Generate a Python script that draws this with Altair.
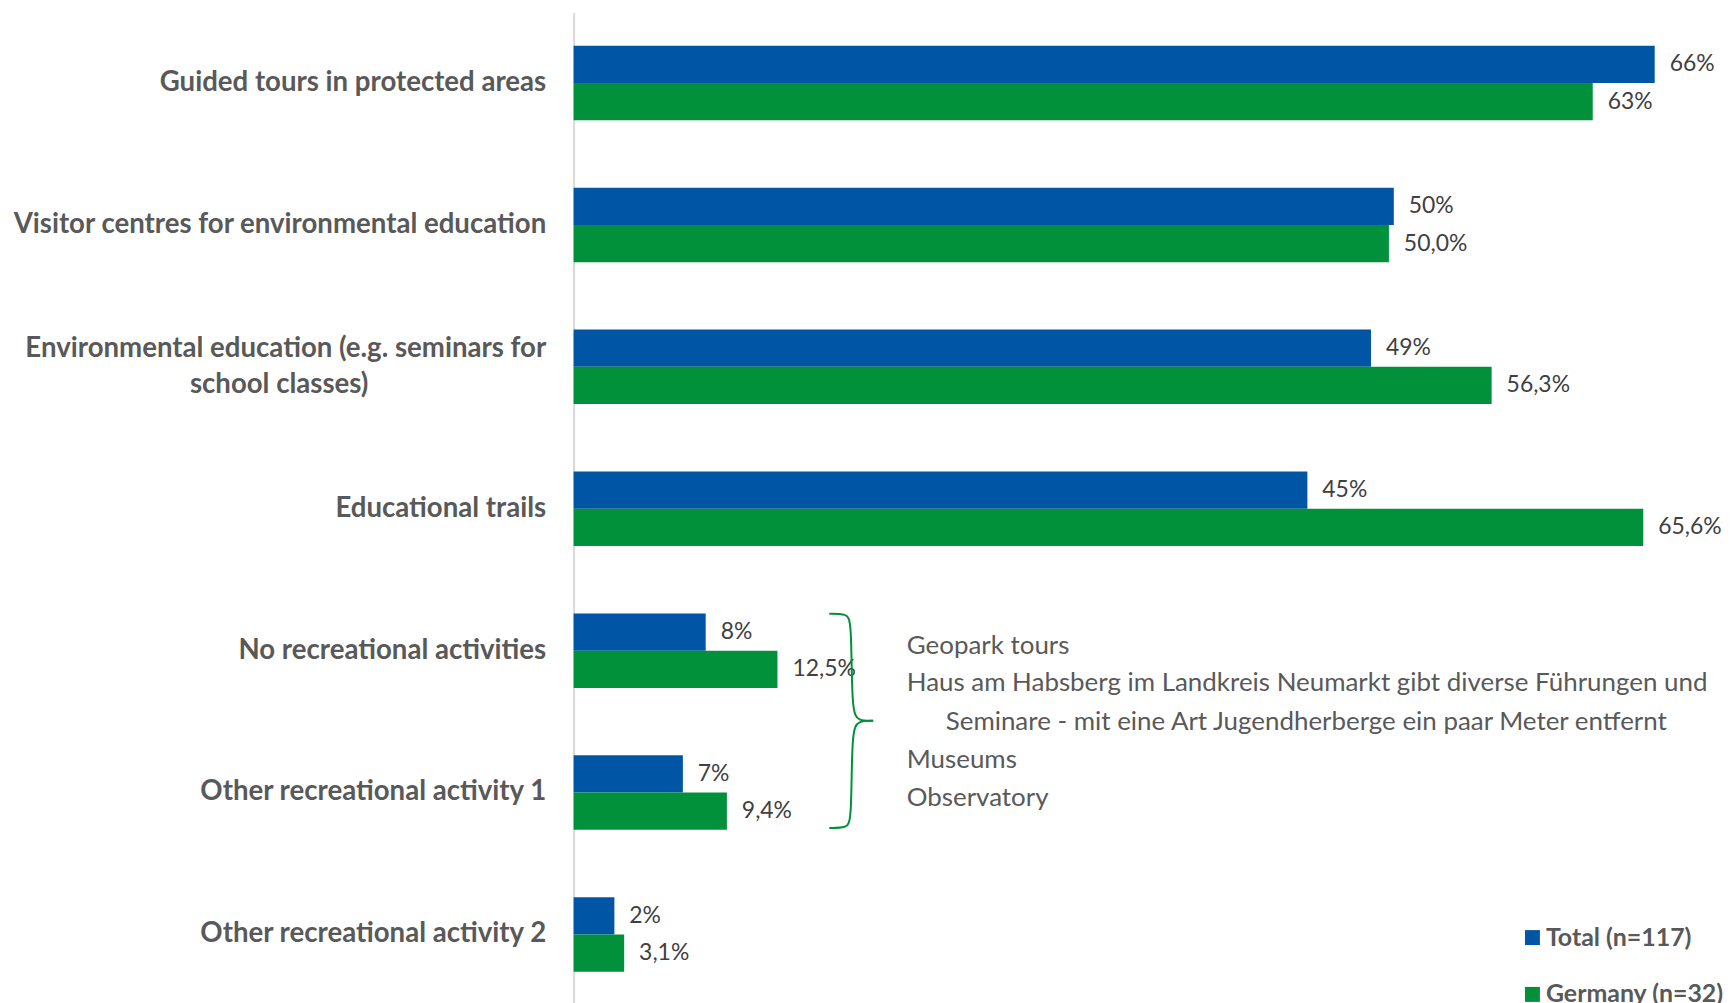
import altair as alt
import pandas as pd

# ---------------- data ----------------
categories = [
    "Guided tours in protected areas",
    "Visitor centres for environmental education",
    "Environmental education (e.g. seminars for school classes)",
    "Educational trails",
    "No recreational activities",
    "Other recreational activity 1",
    "Other recreational activity 2",
]
series_names = ["Total (n=117)", "Germany (n=32)"]
total_values = [66.3, 50.3, 48.9, 45.0, 8.1, 6.7, 2.5]
germany_values = [62.5, 50.0, 56.3, 65.6, 12.5, 9.4, 3.1]
total_labels = ["66%", "50%", "49%", "45%", "8%", "7%", "2%"]
germany_labels = ["63%", "50,0%", "56,3%", "65,6%", "12,5%", "9,4%", "3,1%"]

annotation_lines = [
    "Geopark tours",
    "Haus am Habsberg im Landkreis Neumarkt gibt diverse Führungen und",
    "Seminare - mit eine Art Jugendherberge ein paar Meter entfernt",
    "Museums",
    "Observatory",
]
# annotation anchors (x in %, y in category-step units from the top)
annotation_x = [20.43, 20.43, 22.82, 20.43, 20.43]
annotation_y = [4.467, 4.731, 5.003, 5.274, 5.538]

# curly brace path (x in %, y in category-step units), two halves
brace_part = ["upper"] * 6 + ["lower"] * 6
brace_order = list(range(6)) + list(range(6))
brace_x = [15.68, 16.75, 17.05, 17.05, 17.45, 18.37,
           18.37, 17.45, 17.05, 17.05, 16.75, 15.68]
brace_y = [4.24, 4.24, 4.29, 4.93, 4.995, 4.995,
           4.995, 4.995, 5.06, 5.70, 5.75, 5.75]

# ---------------- tables ----------------
rows = []
for i, c in enumerate(categories):
    rows.append({"category": c, "series": series_names[0], "value": total_values[i], "label": total_labels[i]})
    rows.append({"category": c, "series": series_names[1], "value": germany_values[i], "label": germany_labels[i]})
df = pd.DataFrame(rows)

ann_df = pd.DataFrame({"line": annotation_lines, "ax": annotation_x, "ay": annotation_y})
brace_df = pd.DataFrame({"part": brace_part, "ord": brace_order, "bx": brace_x, "by": brace_y})

BLUE = "#0056A4"
GREEN = "#00913A"
FONT = "Lato"

xscale = alt.Scale(domain=[0, 70], nice=False, zero=True)
yband = alt.Scale(paddingInner=0.475, paddingOuter=0.2375)
yq = alt.Scale(domain=[0, 7], reverse=True, nice=False, zero=False)

long_cat = categories[2]
pad = "\u2003" * 6 + "\u00a0" * 8 + "\u200b"
label_expr = (
    f"datum.value == '{long_cat}' ? "
    f"['Environmental education (e.g. seminars for', 'school classes){pad}'] : datum.value"
)

yaxis = alt.Axis(
    labelExpr=label_expr,
    labelFont=FONT,
    labelFontSize=27.7,
    labelFontWeight="bold",
    labelColor="#595959",
    labelPadding=28,
    labelLimit=0,
    labelLineHeight=36.5,
    labelOffset=alt.condition(f"datum.value == '{long_cat}'", alt.value(-18), alt.value(0)),
    ticks=False,
    domainColor="#D9D9D9",
    domainWidth=2,
    grid=False,
)

bars = alt.Chart(df).mark_bar().encode(
    x=alt.X("value:Q", scale=xscale, axis=None),
    y=alt.Y("category:N", sort=categories, scale=yband, title=None, axis=yaxis),
    yOffset=alt.YOffset("series:N", sort=series_names),
    color=alt.Color(
        "series:N",
        sort=series_names,
        scale=alt.Scale(domain=series_names, range=[BLUE, GREEN]),
        legend=alt.Legend(
            title=None,
            orient="none",
            legendX=949.5,
            legendY=916,
            direction="vertical",
            symbolType="square",
            symbolSize=225,
            symbolStrokeWidth=0,
            labelFont=FONT,
            labelFontSize=25,
            labelFontWeight="bold",
            labelColor="#595959",
            labelOffset=1,
            labelLimit=0,
            rowPadding=31,
            padding=0,
        ),
    ),
)

labels = alt.Chart(df).mark_text(
    align="left", baseline="middle", dx=15, font=FONT, fontSize=23, color="#404040"
).encode(
    x=alt.X("value:Q", scale=xscale, axis=None),
    y=alt.Y("category:N", sort=categories, scale=yband, title=None, axis=yaxis),
    yOffset=alt.YOffset("series:N", sort=series_names),
    text="label:N",
)

brace = alt.Chart(brace_df).mark_line(
    interpolate="basis", color=GREEN, strokeWidth=2
).encode(
    x=alt.X("bx:Q", scale=xscale, axis=None),
    y=alt.Y("by:Q", scale=yq, axis=None),
    detail="part:N",
    order="ord:Q",
)

ann = alt.Chart(ann_df).mark_text(
    align="left", baseline="middle", font=FONT, fontSize=26, color="#595959"
).encode(
    x=alt.X("ax:Q", scale=xscale, axis=None),
    y=alt.Y("ay:Q", scale=yq, axis=None),
    text="line:N",
)

main = alt.layer(bars, labels)
annot = alt.layer(brace, ann)

chart = alt.layer(main, annot).resolve_scale(y="independent").properties(
    width=1145.2,
    height=996.5,
    autosize=alt.AutoSizeParams(type="none"),
    padding={"left": 567.5, "top": 2.5, "right": 10, "bottom": 0},
).configure_view(stroke=None)

chart.save("out.html", embed_options={"renderer": "svg", "actions": False})
